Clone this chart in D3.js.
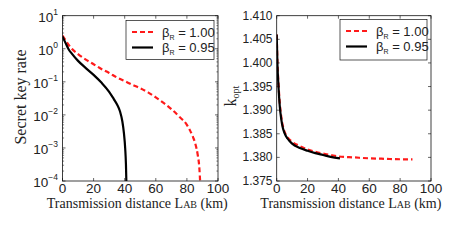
<!DOCTYPE html>

<html>
	<head>
		<title>Secret key rate and k_opt</title>
		<style>
			body { margin: 0; background: #fff; }
			svg { display: block; }
		</style>
	</head>

	<body>
		<script src="https://cdn.jsdelivr.net/npm/d3@7/dist/d3.min.js" charset="utf-8"></script>

		<script>
		// left panel: secret key rate vs distance (log scale)
		var rateDistA = [0, 2, 4, 6, 10, 15, 20, 25, 30, 35, 40, 45, 50, 55, 60, 65, 70, 75, 80, 82, 84, 85.5, 87, 88, 88.6];
		var rateA = [2.5, 1.8, 1.3, 1.0, 0.69, 0.47, 0.34, 0.245, 0.185, 0.135, 0.105, 0.081, 0.064, 0.048, 0.034, 0.023, 0.015, 0.0089, 0.005, 0.0034, 0.0021, 0.0013, 0.0006, 0.00025, 0.00008];
		var rateDistB = [0, 2, 4, 6, 10, 15, 20, 25, 30, 33, 35, 37, 38.5, 39.5, 40.3, 40.8, 41.1];
		var rateB = [2.35, 1.48, 0.95, 0.71, 0.43, 0.26, 0.162, 0.095, 0.05, 0.03, 0.021, 0.0126, 0.0063, 0.0028, 0.001, 0.00032, 0.00008];

		// right panel: k_opt vs distance
		var kDistA = [0, 0.5, 1, 2, 3, 4, 5, 7, 10, 15, 20, 25, 30, 35, 40, 50, 60, 70, 80, 88];
		var kA = [1.406, 1.4, 1.3965, 1.3915, 1.3885, 1.3866, 1.3855, 1.3843, 1.3833, 1.3824, 1.3817, 1.3812, 1.3808, 1.3805, 1.3802, 1.38, 1.3798, 1.3797, 1.3796, 1.3796];
		var kDistB = [0, 0.5, 1, 2, 3, 4, 5, 7, 10, 15, 20, 25, 30, 35, 41];
		var kB = [1.406, 1.3995, 1.396, 1.3908, 1.388, 1.3862, 1.3852, 1.384, 1.3829, 1.382, 1.3814, 1.3809, 1.3805, 1.3801, 1.3798];

		var xTicks = [0, 20, 40, 60, 80, 100];
		var logTicks = [1e1, 1e0, 1e-1, 1e-2, 1e-3, 1e-4];
		var logExps = ["1", "0", "\u22121", "\u22122", "\u22123", "\u22124"];
		var kTicks = [1.375, 1.38, 1.385, 1.39, 1.395, 1.4, 1.405, 1.41];
		var legendLabels = ["1.00", "0.95"];

		var sans = "'Liberation Sans', Arial, sans-serif";
		var serif = "'Liberation Serif', 'Times New Roman', serif";

		var svg = d3.select("body").append("svg")
					.attr("width", 457)
					.attr("height", 248);

		function zip(xs, ys) {
			return xs.map(function (x, i) { return [x, ys[i]]; });
		}

		function panel(opt) {
			var x = d3.scaleLinear().domain([0, 100]).range([opt.left, opt.right]);
			var y = opt.y;
			var g = svg.append("g");

			var clipId = "clip" + opt.name;
			svg.append("clipPath").attr("id", clipId)
				.append("rect")
					.attr("x", opt.left).attr("y", opt.top)
					.attr("width", opt.right - opt.left)
					.attr("height", opt.bottom - opt.top);

			// ticks inward on all four sides
			xTicks.forEach(function (t) {
				g.append("line").attr("x1", x(t)).attr("x2", x(t))
					.attr("y1", opt.bottom).attr("y2", opt.bottom - 3)
					.attr("stroke", "#000").attr("stroke-width", 0.6);
				g.append("line").attr("x1", x(t)).attr("x2", x(t))
					.attr("y1", opt.top).attr("y2", opt.top + 3)
					.attr("stroke", "#000").attr("stroke-width", 0.6);
				g.append("text")
					.attr("x", x(t)).attr("y", opt.bottom + 12)
					.attr("text-anchor", "middle")
					.style("font-family", sans).style("font-size", "13.5px")
					.style("fill", "#222")
					.text(t);
			});

			opt.yTicks.forEach(function (t) {
				g.append("line").attr("x1", opt.left).attr("x2", opt.left + 3)
					.attr("y1", y(t)).attr("y2", y(t))
					.attr("stroke", "#000").attr("stroke-width", 0.6);
				g.append("line").attr("x1", opt.right).attr("x2", opt.right - 3)
					.attr("y1", y(t)).attr("y2", y(t))
					.attr("stroke", "#000").attr("stroke-width", 0.6);
			});

			(opt.minor || []).forEach(function (t) {
				g.append("line").attr("x1", opt.left).attr("x2", opt.left + 1.6)
					.attr("y1", y(t)).attr("y2", y(t))
					.attr("stroke", "#000").attr("stroke-width", 0.5);
				g.append("line").attr("x1", opt.right).attr("x2", opt.right - 1.6)
					.attr("y1", y(t)).attr("y2", y(t))
					.attr("stroke", "#000").attr("stroke-width", 0.5);
			});

			opt.yLabels(g, y);

			var line = d3.line()
				.x(function (d) { return x(d[0]); })
				.y(function (d) { return y(d[1]); })
				.curve(d3.curveMonotoneX);

			var lines = g.append("g").attr("clip-path", "url(#" + clipId + ")");
			lines.append("path")
				.attr("d", line(opt.seriesA))
				.attr("fill", "none")
				.attr("stroke", "#ff1a1a")
				.attr("stroke-width", 2.2)
				.attr("stroke-dasharray", "5,3");
			lines.append("path")
				.attr("d", line(opt.seriesB))
				.attr("fill", "none")
				.attr("stroke", "#000")
				.attr("stroke-width", 2.2);

			g.append("rect")
				.attr("x", opt.left).attr("y", opt.top)
				.attr("width", opt.right - opt.left)
				.attr("height", opt.bottom - opt.top)
				.attr("fill", "none")
				.attr("stroke", "#111").attr("stroke-width", 0.8);

			// legend
			var lg = opt.legend;
			g.append("rect")
				.attr("x", lg.x).attr("y", lg.y)
				.attr("width", lg.w).attr("height", lg.h)
				.attr("fill", "#fff")
				.attr("stroke", "#111").attr("stroke-width", 0.7);
			legendLabels.forEach(function (lab, i) {
				var ly = lg.y + 11.5 + i * 15.5;
				g.append("line")
					.attr("x1", lg.x + 6).attr("x2", lg.x + 27)
					.attr("y1", ly).attr("y2", ly)
					.attr("stroke", i == 0 ? "#ff1a1a" : "#000")
					.attr("stroke-width", 2.2)
					.attr("stroke-dasharray", i == 0 ? "5,3" : null);
				var t = g.append("text")
					.attr("x", lg.x + 36).attr("y", ly + 4.5)
					.style("font-family", sans).style("font-size", "13px")
					.style("fill", "#222");
				t.append("tspan").text("\u03b2");
				t.append("tspan").attr("dy", 3).style("font-size", "7px").text("R");
				t.append("tspan").attr("dy", -3).text(" = " + lab);
			});

			// x title
			var xt = g.append("text")
				.attr("x", (opt.left + opt.right) / 2 - 3)
				.attr("y", 208)
				.attr("text-anchor", "middle")
				.style("font-family", serif).style("font-size", "14px")
				.style("fill", "#222");
			xt.append("tspan").text("Transmission distance L");
			xt.append("tspan").style("font-size", "10px").text("AB");
			xt.append("tspan").text(" (km)");
		}

		var yLog = d3.scaleLog().domain([1e-4, 1e1]).range([181, 15.7]);
		var minorLog = [];
		[1e-4, 1e-3, 1e-2, 1e-1, 1e0].forEach(function (p) {
			for (var m = 2; m <= 9; m++) minorLog.push(p * m);
		});

		panel({
			name: "L",
			left: 62.5, right: 218, top: 15.7, bottom: 181,
			y: yLog,
			yTicks: logTicks,
			minor: minorLog,
			seriesA: zip(rateDistA, rateA),
			seriesB: zip(rateDistB, rateB),
			legend: { x: 126, y: 20.5, w: 88, h: 39 },
			yLabels: function (g, y) {
				logTicks.forEach(function (t, i) {
					var txt = g.append("text")
						.attr("x", 58).attr("y", y(t) + 6)
						.attr("text-anchor", "end")
						.style("font-family", sans).style("font-size", "13.5px")
						.style("fill", "#222");
					txt.append("tspan").text("10");
					txt.append("tspan").attr("dy", -7).style("font-size", "8.5px").text(logExps[i]);
				});
				g.append("text")
					.attr("transform", "translate(26,97) rotate(-90)")
					.attr("text-anchor", "middle")
					.style("font-family", serif).style("font-size", "16px")
					.style("fill", "#222")
					.text("Secret key rate");
			}
		});

		var yK = d3.scaleLinear().domain([1.375, 1.41]).range([181, 15.7]);

		panel({
			name: "R",
			left: 276.7, right: 431, top: 15.7, bottom: 181,
			y: yK,
			yTicks: kTicks,
			seriesA: zip(kDistA, kA),
			seriesB: zip(kDistB, kB),
			legend: { x: 340, y: 19.5, w: 87, h: 40.5 },
			yLabels: function (g, y) {
				kTicks.forEach(function (t) {
					g.append("text")
						.attr("x", 272.5).attr("y", y(t) + 4)
						.attr("text-anchor", "end")
						.style("font-family", sans).style("font-size", "12px")
						.style("fill", "#222")
						.text(d3.format(".3f")(t));
				});
				var kt = g.append("text")
					.attr("transform", "translate(236,96) rotate(-90)")
					.attr("text-anchor", "middle")
					.style("font-family", serif).style("font-size", "16px")
					.style("fill", "#222");
				kt.append("tspan").text("k");
				kt.append("tspan").attr("dy", 2.5).style("font-size", "10px").text("opt");
			}
		});
		</script>
	</body>
</html>
